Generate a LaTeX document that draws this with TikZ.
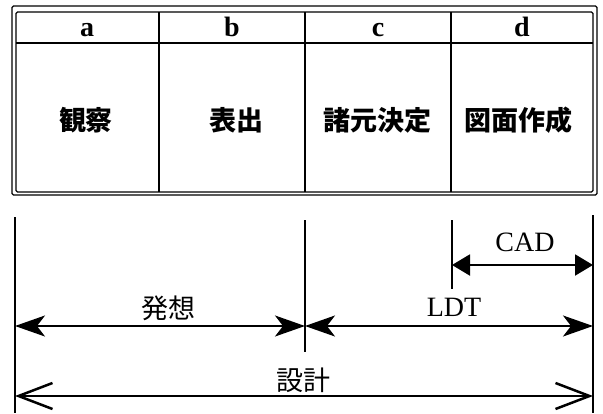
\documentclass[tikz,border=0pt]{standalone}
\usepackage{fontspec}
\setmainfont{Liberation Serif}
\newfontfamily\jp{Noto Sans CJK JP}
\usetikzlibrary{arrows.meta}
\begin{document}
\begin{tikzpicture}[x=1pt,y=-1pt,
  frame/.style={line width=1.4pt, rounded corners=1.5pt},
  grid/.style={line width=2.2pt},
  tick/.style={line width=1.8pt},
  hdr/.style={font=\fontsize{28}{28}\selectfont\bfseries, inner sep=0pt, anchor=base},
  cell/.style={font=\jp\bfseries\fontsize{27}{27}\selectfont, inner sep=0pt},
  lab/.style={font=\jp\fontsize{27}{27}\selectfont, inner sep=0pt},
  latin/.style={font=\fontsize{28}{28}\selectfont, inner sep=0pt},
  span/.style={line width=2pt},
  stl/.style={span, {Stealth[length=30pt,width=21pt,inset=8pt]}-{Stealth[length=30pt,width=21pt,inset=8pt]}},
  tri/.style={span, {Triangle[length=18pt,width=21pt]}-{Triangle[length=18pt,width=21pt]}},
  barb/.style={span, {Straight Barb[length=34pt,width=26pt,line width=2.5pt]}-{Straight Barb[length=34pt,width=26pt,line width=2.5pt]}}
]
\useasboundingbox (0,0) rectangle (603,413);
% table frame
\draw[frame] (12,6) rectangle (597,195);
\draw[frame] (16,12) rectangle (593,192);
\coordinate (hl) at (16,43);
\coordinate (hr) at (593,43);
\draw[grid] (hl) -- (hr);
\foreach \x/\n in {159/1,305/2,451/3}{
  \coordinate (ct\n) at (\x,12);
  \coordinate (cb\n) at (\x,192);
  \draw[grid] (ct\n) -- (cb\n);
}
% header
\node[hdr] (ha) at (87,36) {a};
\node[hdr] (hb) at (232,36) {b};
\node[hdr] (hc) at (378,36) {c};
\node[hdr] (hd) at (522,36) {d};
% body
\node[cell] (ta) at (86,120) {観察};
\node[cell] (tb) at (236,120) {表出};
\node[cell] (tc) at (377,120) {諸元決定};
\node[cell] (td) at (518,120) {図面作成};
% vertical lines
\coordinate (Lt) at (15,217);  \coordinate (Lb) at (15,413);
\coordinate (Mt) at (305,220); \coordinate (Mb) at (305,352);
\coordinate (Ct) at (452,220); \coordinate (Cb) at (452,289);
\coordinate (Rt) at (593,215); \coordinate (Rb) at (593,413);
\draw[tick] (Lt) -- (Lb);
\draw[tick] (Mt) -- (Mb);
\draw[tick] (Ct) -- (Cb);
\draw[tick] (Rt) -- (Rb);
% arrows
\coordinate (c1) at (452,265); \coordinate (c2) at (593,265);
\draw[tri] (c1) -- (c2);
\coordinate (h1) at (15,326); \coordinate (h2) at (305,326);
\draw[stl] (h1) -- (h2);
\coordinate (l1) at (305,326); \coordinate (l2) at (593,326);
\draw[stl] (l1) -- (l2);
\coordinate (s1) at (15,396); \coordinate (s2) at (593,396);
\draw[barb] (s1) -- (s2);
% labels
\node[latin] (cad) at (525,242) {CAD};
\node[latin] (ldt) at (454,307) {LDT};
\node[lab] (hasso) at (168,308) {発想};
\node[lab] (sekkei) at (303,380) {設計};
\end{tikzpicture}
\end{document}
